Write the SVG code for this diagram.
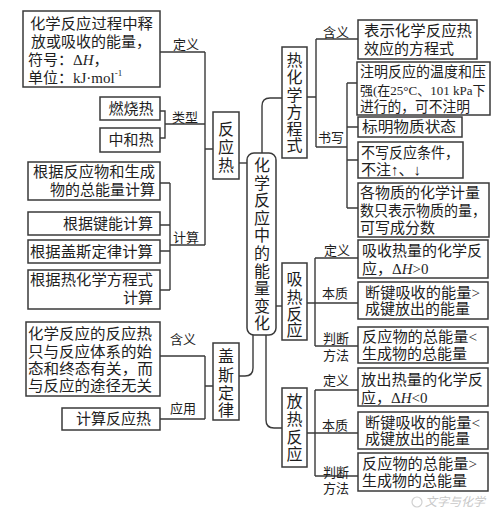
<svg xmlns="http://www.w3.org/2000/svg" width="500" height="515" viewBox="0 0 500 515">
<style>
.box{fill:#fff;stroke:#3a3a3a;stroke-width:1.5}
.ln{fill:none;stroke:#3a3a3a;stroke-width:1.4}
text{font-family:"Liberation Serif","Noto Sans CJK SC",serif;fill:#1e1e1e;dominant-baseline:central}
.t{font-size:15px}
.lb{font-size:13px}
.v{font-size:16px;text-anchor:middle}
.e{text-anchor:end}
.m{text-anchor:middle}
.i{font-style:italic}
.wm{font-size:12px;fill:#c8c8c8;font-style:italic}
</style>
<rect width="500" height="515" fill="#fff"/>
<g id="connectors">
<path class="ln" d="M262,153 V106 Q262,98 270,98 H282"/>
<path class="ln" d="M239,163 H247"/>
<path class="ln" d="M276,306 H282"/>
<path class="ln" d="M253,335 V368 Q253,376 245,376 H239"/>
<path class="ln" d="M266,335 V420 Q266,428 274,428 H282"/>
<path class="ln" d="M307,97 H316 M316,39 V147 M316,39 H358 M316,147 H347 M347,83 V208 M347,83 H357 M347,127 H358 M347,160 H358 M347,208 H358"/>
<path class="ln" d="M307,303 H358 M315,258 V346 M315,258 H358 M315,346 H358"/>
<path class="ln" d="M307,433 H358 M315,390 V476 M315,390 H358 M315,476 H358"/>
<path class="ln" d="M205,52 V245 M160,52 H205 M165,124 H205 M205,149 H213 M170,245 H205 M160,111 H165 V138 H160"/>
<path class="ln" d="M170,183 V290 M160,183 H170 M160,225 H170 M160,251 H170 M160,290 H170"/>
<path class="ln" d="M205,356 V419 M160,356 H205 M205,386 H213 M160,419 H205"/>
</g>
<g id="center">
<rect class="box" x="247" y="153" width="29" height="182" rx="7"/>
<text class="v" x="262"><tspan x="262" y="165">化</tspan><tspan x="262" y="182.6">学</tspan><tspan x="262" y="200.2">反</tspan><tspan x="262" y="217.8">应</tspan><tspan x="262" y="235.4">中</tspan><tspan x="262" y="253">的</tspan><tspan x="262" y="270.6">能</tspan><tspan x="262" y="288.2">量</tspan><tspan x="262" y="305.8">变</tspan><tspan x="262" y="323.4">化</tspan></text>
</g>
<g id="fanyingre">
<rect class="box" x="213" y="112" width="26" height="67"/>
<text class="v"><tspan x="226" y="129">反</tspan><tspan x="226" y="147">应</tspan><tspan x="226" y="165">热</tspan></text>
</g>
<g id="rhxfcs">
<rect class="box" x="282" y="47" width="25" height="111"/>
<text class="v"><tspan x="294.5" y="60">热</tspan><tspan x="294.5" y="77">化</tspan><tspan x="294.5" y="94.5">学</tspan><tspan x="294.5" y="111.5">方</tspan><tspan x="294.5" y="128.5">程</tspan><tspan x="294.5" y="145">式</tspan></text>
</g>
<g id="xirefy">
<rect class="box" x="282" y="263" width="25" height="77"/>
<text class="v"><tspan x="294.5" y="279">吸</tspan><tspan x="294.5" y="296.5">热</tspan><tspan x="294.5" y="314">反</tspan><tspan x="294.5" y="330">应</tspan></text>
</g>
<g id="gaisi">
<rect class="box" x="213" y="343" width="26" height="77"/>
<text class="v"><tspan x="226" y="356">盖</tspan><tspan x="226" y="375">斯</tspan><tspan x="226" y="393">定</tspan><tspan x="226" y="410">律</tspan></text>
</g>
<g id="fangrefy">
<rect class="box" x="282" y="388" width="25" height="79"/>
<text class="v"><tspan x="294.5" y="401">放</tspan><tspan x="294.5" y="419">热</tspan><tspan x="294.5" y="437">反</tspan><tspan x="294.5" y="454">应</tspan></text>
</g>
<g id="frr-dingyi">
<rect class="box" x="23" y="11" width="137" height="76"/>
<text class="t"><tspan x="30" y="24" textLength="123" lengthAdjust="spacingAndGlyphs">化学反应过程中释</tspan><tspan x="31" y="42" textLength="120" lengthAdjust="spacingAndGlyphs">放或吸收的能量，</tspan><tspan x="28" y="60">符号：Δ<tspan class="i">H</tspan>，</tspan><tspan x="28" y="78">单位：kJ·mol<tspan font-size="9" dy="-5">-1</tspan></tspan></text>
<text class="lb" x="173" y="44">定义</text>
</g>
<g id="frr-leixing">
<rect class="box" x="100" y="97" width="60" height="23"/>
<text class="t m" x="131" y="108.5">燃烧热</text>
<rect class="box" x="100" y="128" width="60" height="24"/>
<text class="t m" x="131" y="140">中和热</text>
<text class="lb" x="172" y="117">类型</text>
</g>
<g id="frr-jisuan">
<rect class="box" x="28" y="162" width="132" height="38"/>
<text class="t e"><tspan x="155" y="172" textLength="122" lengthAdjust="spacingAndGlyphs">根据反应物和生成</tspan><tspan x="155" y="190">物的总能量计算</tspan></text>
<rect class="box" x="28" y="212" width="132" height="23"/>
<text class="t e" x="153" y="223.5">根据键能计算</text>
<rect class="box" x="28" y="240" width="132" height="23"/>
<text class="t e" x="153" y="251.5" textLength="123" lengthAdjust="spacingAndGlyphs">根据盖斯定律计算</text>
<rect class="box" x="28" y="270" width="132" height="39"/>
<text class="t e"><tspan x="153" y="280" textLength="123" lengthAdjust="spacingAndGlyphs">根据热化学方程式</tspan><tspan x="153" y="298">计算</tspan></text>
<text class="lb" x="173" y="237">计算</text>
</g>
<g id="gs-hanyi">
<rect class="box" x="26" y="322" width="134" height="74"/>
<text class="t"><tspan x="28" y="334" textLength="124" lengthAdjust="spacingAndGlyphs">化学反应的反应热</tspan><tspan x="28" y="352" textLength="124" lengthAdjust="spacingAndGlyphs">只与反应体系的始</tspan><tspan x="28" y="369" textLength="125" lengthAdjust="spacingAndGlyphs">态和终态有关，而</tspan><tspan x="28" y="386" textLength="124" lengthAdjust="spacingAndGlyphs">与反应的途径无关</tspan></text>
<text class="lb" x="170" y="339">含义</text>
</g>
<g id="gs-yingyong">
<rect class="box" x="62" y="408" width="98" height="22"/>
<text class="t e" x="151" y="419">计算反应热</text>
<text class="lb" x="170" y="408">应用</text>
</g>
<g id="rh-hanyi">
<rect class="box" x="358" y="20" width="119" height="39"/>
<text class="t"><tspan x="364" y="31" textLength="108" lengthAdjust="spacingAndGlyphs">表示化学反应热</tspan><tspan x="364" y="49">效应的方程式</tspan></text>
<text class="lb" x="323" y="32">含义</text>
</g>
<g id="rh-shuxie">
<text class="lb" x="318" y="137">书写</text>
<rect class="box" x="357" y="62" width="133" height="53"/>
<text class="t"><tspan x="360" y="72" textLength="126" lengthAdjust="spacingAndGlyphs">注明反应的温度和压</tspan><tspan x="360" y="107" textLength="110" lengthAdjust="spacingAndGlyphs">进行的，可不注明</tspan></text>
<text font-size="13" x="360" y="90">强(在25°C、101 kPa下</text>
<rect class="box" x="358" y="117" width="104" height="20"/>
<text class="t" x="362" y="127" textLength="94" lengthAdjust="spacingAndGlyphs">标明物质状态</text>
<rect class="box" x="358" y="142" width="105" height="36"/>
<text class="t"><tspan x="361" y="153" textLength="98" lengthAdjust="spacingAndGlyphs">不写反应条件，</tspan><tspan x="361" y="170">不注↑、↓</tspan></text>
<rect class="box" x="358" y="183" width="131" height="54"/>
<text class="t"><tspan x="360" y="193" textLength="120" lengthAdjust="spacingAndGlyphs">各物质的化学计量</tspan><tspan x="360" y="211" textLength="126" lengthAdjust="spacingAndGlyphs">数只表示物质的量，</tspan><tspan x="360" y="228">可写成分数</tspan></text>
</g>
<g id="xr-items">
<text class="lb" x="324" y="250">定义</text>
<rect class="box" x="358" y="240" width="130" height="38"/>
<text class="t"><tspan x="362" y="251" textLength="120" lengthAdjust="spacingAndGlyphs">吸收热量的化学反</tspan><tspan x="362" y="269">应，Δ<tspan class="i">H</tspan>&gt;0</tspan></text>
<text class="lb" x="322" y="293">本质</text>
<rect class="box" x="358" y="282" width="130" height="37"/>
<text class="t"><tspan x="365" y="293" textLength="115" lengthAdjust="spacingAndGlyphs">断键吸收的能量&gt;</tspan><tspan x="365" y="309">成键放出的能量</tspan></text>
<text class="lb"><tspan x="323" y="338">判断</tspan><tspan x="323" y="355">方法</tspan></text>
<rect class="box" x="358" y="327" width="130" height="36"/>
<text class="t"><tspan x="362" y="337" textLength="115" lengthAdjust="spacingAndGlyphs">反应物的总能量&lt;</tspan><tspan x="362" y="354">生成物的总能量</tspan></text>
</g>
<g id="fr-items">
<text class="lb" x="323" y="380">定义</text>
<rect class="box" x="358" y="368" width="130" height="38"/>
<text class="t"><tspan x="361" y="380" textLength="122" lengthAdjust="spacingAndGlyphs">放出热量的化学反</tspan><tspan x="361" y="398">应，Δ<tspan class="i">H</tspan>&lt;0</tspan></text>
<text class="lb" x="322" y="425">本质</text>
<rect class="box" x="358" y="412" width="130" height="37"/>
<text class="t"><tspan x="365" y="423" textLength="115" lengthAdjust="spacingAndGlyphs">断键吸收的能量&lt;</tspan><tspan x="365" y="439">成键放出的能量</tspan></text>
<text class="lb"><tspan x="323" y="472">判断</tspan><tspan x="323" y="488">方法</tspan></text>
<rect class="box" x="358" y="453" width="130" height="38"/>
<text class="t"><tspan x="362" y="464" textLength="115" lengthAdjust="spacingAndGlyphs">反应物的总能量&gt;</tspan><tspan x="362" y="481">生成物的总能量</tspan></text>
</g>
<g id="watermark">
<circle cx="417" cy="502" r="5" fill="none" stroke="#d0d0d0" stroke-width="1.2"/>
<text class="wm" x="425" y="502">文字与化学</text>
</g>
</svg>
